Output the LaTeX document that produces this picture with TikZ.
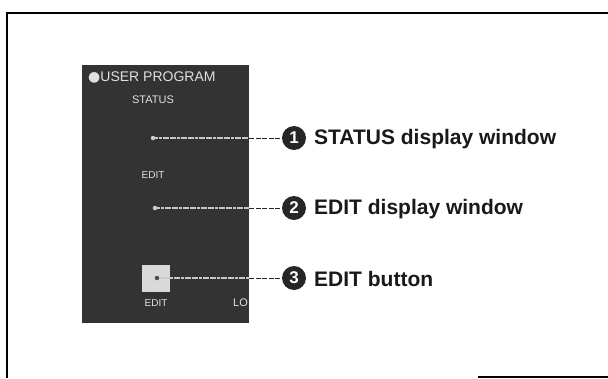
\documentclass[tikz,border=0pt]{standalone}
\usepackage{fontspec}
\setmainfont{Liberation Sans}
\newfontfamily\dejavu{DejaVu Sans}
\begin{document}
\begin{tikzpicture}[x=1pt,y=-1pt,
  panelfill/.style={fill=black!80},
  paneltext/.style={text=white!88!black,inner sep=0pt,anchor=center},
  numcirc/.style={circle,fill=black!85,minimum size=24pt,inner sep=0pt,text=white,font=\bfseries\fontsize{17}{17}\selectfont},
  calloutlabel/.style={anchor=west,inner sep=0pt,font=\bfseries\fontsize{21}{21}\selectfont,text=black!90},
  innerline/.style={draw=white!78!black,line width=1.4pt,dash pattern=on 3pt off 0.6pt},
  outerline/.style={draw=black!85,line width=1pt,dash pattern=on 5pt off 1.5pt},
  dotnode/.style={circle,fill=white!80!black,minimum size=4.5pt,inner sep=0pt},
  frameline/.style={draw=black,line width=1.4pt}]
\useasboundingbox (0,0) rectangle (608,378);
% frame
\draw[frameline] (7,378) -- (7,13) -- (608,13);
\draw[frameline] (478,377) -- (608,377);
% panel
\node[panelfill,draw=none,minimum width=167pt,minimum height=258pt,inner sep=0pt,anchor=north west] (panel) at (82,65) {};
\begin{scope}
\clip (82,65) rectangle (249,323);
\node[paneltext,anchor=west,font=\fontsize{14}{14}\selectfont] (title) at (88,77) {{\dejavu ●}USER PROGRAM};
\node[paneltext,font=\fontsize{11}{11}\selectfont] (status) at (153,100) {STATUS};
\node[paneltext,font=\fontsize{10}{10}\selectfont] (edit) at (153,175) {EDIT};
\node[fill=white!85!black,minimum width=28pt,minimum height=27pt,inner sep=0pt] (btn) at (156,278.5) {};
\node[paneltext,font=\fontsize{10}{10}\selectfont] (btnlabel) at (156,303) {EDIT};
\node[paneltext,anchor=west,font=\fontsize{11}{11}\selectfont] (lo) at (233,303) {LO};
\end{scope}
% callout points
\node[dotnode] (p1) at (153,138) {};
\node[dotnode] (p2) at (155,208) {};
\node[dotnode,fill=black!70] (p3) at (157,278) {};
\coordinate (e1) at (249,138);
\coordinate (e2) at (249,208);
\coordinate (e3) at (249,278);
% numbered circles
\node[numcirc] (c1) at (294,138) {1};
\node[numcirc] (c2) at (294,208) {2};
\node[numcirc] (c3) at (294,278) {3};
% labels
\node[calloutlabel] (t1) at (314,139) {STATUS display window};
\node[calloutlabel] (t2) at (314,209) {EDIT display window};
\node[calloutlabel] (t3) at (314,279) {EDIT button};
% connectors
\draw[innerline] (p1) -- (e1);
\draw[innerline] (p2) -- (e2);
\draw[innerline] (p3) -- (e3);
\draw[outerline] (e1) -- (c1);
\draw[outerline] (e2) -- (c2);
\draw[outerline] (e3) -- (c3);
\end{tikzpicture}
\end{document}
